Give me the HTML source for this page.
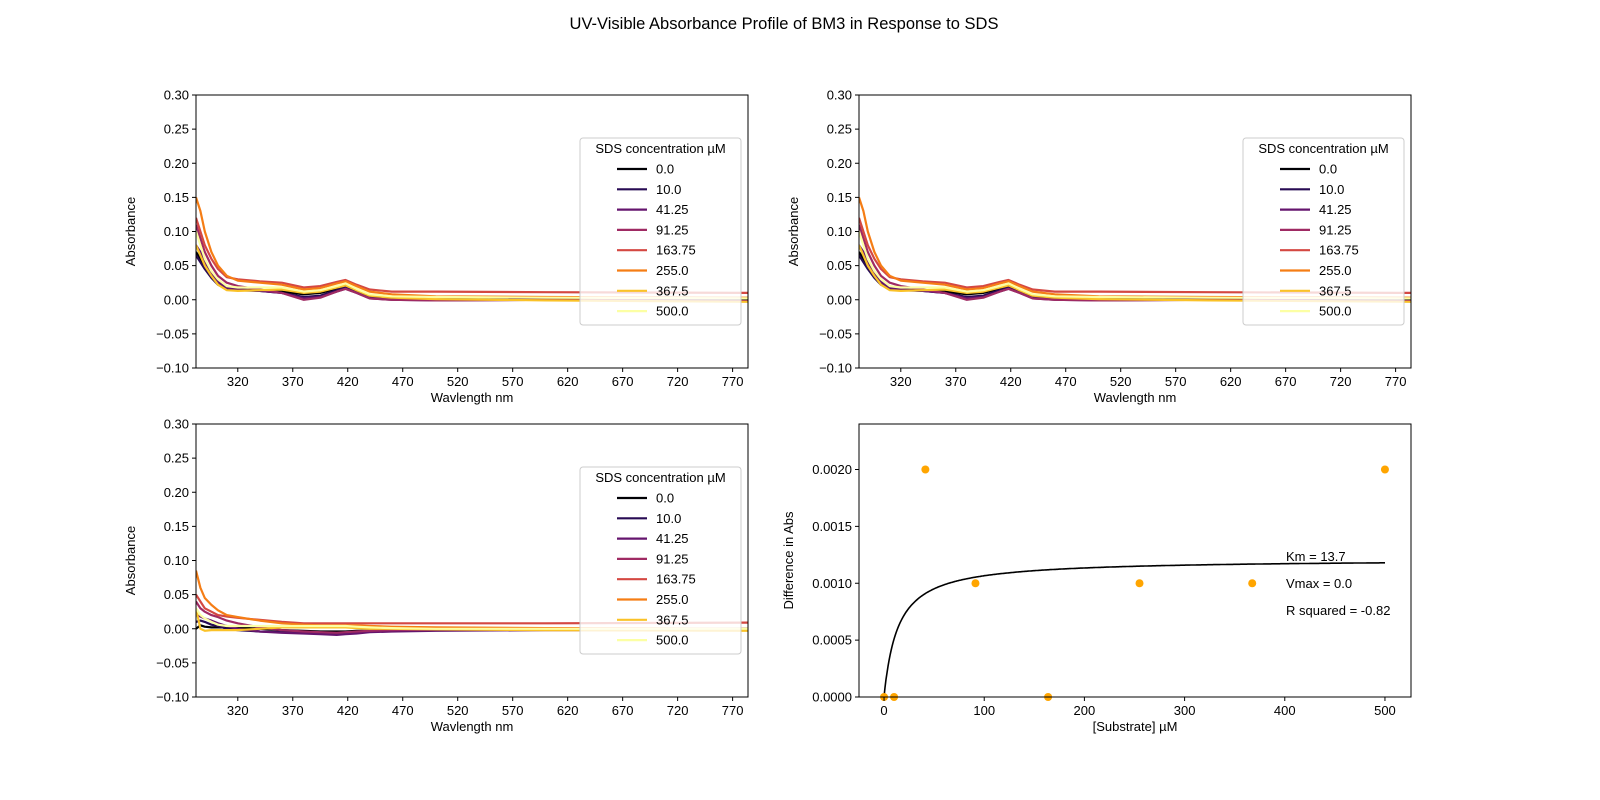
<!DOCTYPE html>
<html><head><meta charset="utf-8"><style>
html,body{margin:0;padding:0;background:#fff;overflow:hidden;width:1600px;height:800px}
svg{display:block}
svg text{font-family:"Liberation Sans","DejaVu Sans",sans-serif;fill:#000}
</style></head><body>
<svg id="fig" width="1600" height="800" xmlns="http://www.w3.org/2000/svg">
<rect width="1600" height="800" fill="#fff"/>
<text x="784" y="29" font-size="16.5" text-anchor="middle">UV-Visible Absorbance Profile of BM3 in Response to SDS</text>
</svg>
<script>
const NS="http://www.w3.org/2000/svg";
const svg=document.getElementById('fig');
const wavelengths=[282,286,290,296,302,310,320,340,360,380,395,410,418,428,440,460,500,600,784];
const concLabels=["0.0","10.0","41.25","91.25","163.75","255.0","367.5","500.0"];
const colors=["#000004","#280b54","#65156e","#9f2a63","#d44842","#f57d15","#fac228","#fcffa4"];
const panelA=[
[0.07,0.06,0.05,0.035,0.025,0.017,0.015,0.014,0.012,0.008,0.010,0.016,0.020,0.014,0.006,0.003,0.002,0.002,0.0],
[0.065,0.055,0.045,0.032,0.022,0.016,0.014,0.013,0.010,0.004,0.006,0.014,0.018,0.012,0.004,0.001,0.0,0.0,-0.002],
[0.08,0.07,0.055,0.038,0.026,0.018,0.015,0.013,0.010,0.002,0.004,0.012,0.016,0.010,0.002,0.0,-0.001,0.0,-0.002],
[0.11,0.09,0.07,0.05,0.035,0.025,0.02,0.015,0.01,0.0,0.003,0.012,0.016,0.01,0.002,0,-0.001,0,-0.002],
[0.12,0.1,0.08,0.06,0.045,0.033,0.03,0.027,0.025,0.018,0.02,0.026,0.029,0.022,0.015,0.012,0.012,0.011,0.01],
[0.15,0.13,0.1,0.07,0.05,0.035,0.028,0.025,0.022,0.015,0.017,0.024,0.027,0.02,0.012,0.008,0.005,0.004,0.003],
[0.08,0.065,0.05,0.035,0.022,0.014,0.013,0.014,0.015,0.01,0.012,0.018,0.021,0.014,0.006,0.003,0.001,-0.001,-0.003],
[0.1,0.08,0.06,0.042,0.03,0.02,0.018,0.018,0.018,0.012,0.014,0.02,0.024,0.016,0.008,0.005,0.004,0.003,0.002]];
const panelB=panelA;
const panelC=[
[0.0,0.005,0.003,0.002,0.002,0.002,0.002,0.0,-0.002,-0.003,-0.004,-0.004,-0.004,-0.003,-0.003,-0.002,-0.001,0,0],
[0.01,0.012,0.01,0.006,0.004,0.0,-0.002,-0.004,-0.005,-0.006,-0.007,-0.007,-0.006,-0.005,-0.004,-0.003,-0.002,-0.001,-0.002],
[0.02,0.018,0.015,0.012,0.008,0.004,0.0,-0.004,-0.006,-0.007,-0.008,-0.009,-0.008,-0.007,-0.005,-0.004,-0.003,-0.002,-0.002],
[0.04,0.03,0.025,0.02,0.017,0.012,0.008,0.002,-0.002,-0.004,-0.005,-0.006,-0.005,-0.004,-0.003,-0.002,-0.001,0,0],
[0.05,0.04,0.03,0.025,0.02,0.018,0.016,0.013,0.01,0.008,0.008,0.008,0.008,0.008,0.008,0.008,0.008,0.008,0.009],
[0.085,0.06,0.045,0.035,0.027,0.02,0.017,0.012,0.008,0.006,0.005,0.005,0.005,0.005,0.004,0.003,0.002,0.001,0.0],
[0.03,0.0,-0.003,-0.002,-0.002,-0.002,-0.002,0,0.002,0.002,0.002,0.002,0.002,0.001,0,0,-0.001,-0.002,-0.003],
[0.03,0.02,0.015,0.01,0.006,0.004,0.004,0.004,0.004,0.004,0.004,0.004,0.004,0.003,0.002,0.001,0,0,0]];
const xTicks=[320,370,420,470,520,570,620,670,720,770];
const yTicks=[-0.10,-0.05,0.00,0.05,0.10,0.15,0.20,0.25,0.30];
const substrate=[0,10,41.25,91.25,163.75,255,367.5,500];
const diffAbs=[0,0,0.002,0.001,0,0.001,0.001,0.002];
const Km=13.7, Vmax=0.001212;
const sXTicks=[0,100,200,300,400,500];
const sYTicks=[0,0.0005,0.0010,0.0015,0.0020];

function el(tag,attrs,parent){const e=document.createElementNS(NS,tag);for(const k in attrs)e.setAttribute(k,attrs[k]);(parent||svg).appendChild(e);return e;}
function txt(s,attrs,parent){const t=el('text',attrs,parent);t.textContent=s;return t;}

function spectrum(px,py,data,name){
  const w=552,h=273,x0=282,x1=784,y0=-0.10,y1=0.30;
  const g=el('g',{});
  
  
  const X=v=>px+(v-x0)/(x1-x0)*w, Y=v=>py+h-(v-y0)/(y1-y0)*h;
  const cid='clip'+name;
  const cp=el('clipPath',{id:cid},g);el('rect',{x:px,y:py,width:w,height:h},cp);
  const lg=el('g',{'clip-path':`url(#${cid})`},g);
  data.forEach((s,i)=>{
    const p=el('polyline',{points:s.map((v,j)=>X(wavelengths[j]).toFixed(1)+','+Y(v).toFixed(1)).join(' '),fill:'none',stroke:colors[i],'stroke-width':2.2,'stroke-linejoin':'round'},lg);
    
    
  });
  el('rect',{x:px,y:py,width:w,height:h,fill:'none',stroke:'#000','stroke-width':1},g);
  xTicks.forEach(t=>{const x=X(t);el('line',{x1:x,x2:x,y1:py+h,y2:py+h+4,stroke:'#000'},g);
    const l=txt(t,{x:x,y:py+h+18,'font-size':13,'text-anchor':'middle'},g);
    
    });
  yTicks.forEach(t=>{const y=Y(t);el('line',{x1:px-4,x2:px,y1:y,y2:y,stroke:'#000'},g);
    const l=txt((t<0?'\u2212':'')+Math.abs(t).toFixed(2),{x:px-7,y:y+4.5,'font-size':13,'text-anchor':'end'},g);
    
    });
  const xl=txt('Wavlength nm',{x:px+w/2,y:py+h+34,'font-size':13,'text-anchor':'middle'},g);
  
  
  const yl=txt('Absorbance',{x:0,y:0,'font-size':13,'text-anchor':'middle',transform:`translate(${px-61},${py+h/2}) rotate(-90)`},g);
  
  
  const lgd=el('g',{},g);
  
  
  const lx=px+384,ly=py+43;
  el('rect',{x:lx,y:ly,width:161,height:187,rx:3,fill:'rgba(255,255,255,0.8)',stroke:'#ccc'},lgd);
  txt('SDS concentration µM',{x:lx+80.5,y:ly+15,'font-size':13,'text-anchor':'middle'},lgd);
  concLabels.forEach((c,i)=>{const y=ly+31+i*20.3;
    const e=el('g',{},lgd);
    
    
    el('line',{x1:lx+37,x2:lx+67,y1:y,y2:y,stroke:colors[i],'stroke-width':2.2},e);
    txt(c,{x:lx+76,y:y+4.5,'font-size':13},e);});
}
spectrum(196,95,panelA,'spectrum-panel-1');
spectrum(859,95,panelB,'spectrum-panel-2');
spectrum(196,424,panelC,'spectrum-panel-3');

(function(){
  const px=859,py=424,w=552,h=273,x0=-25,x1=526,y0=0,y1=0.0024;
  const g=el('g',{});
  
  
  const X=v=>px+(v-x0)/(x1-x0)*w, Y=v=>py+h-(v-y0)/(y1-y0)*h;
  const pts=[];for(let s=0;s<=500;s+=1)pts.push(X(s).toFixed(1)+','+Y(Vmax*s/(Km+s)).toFixed(1));
  const fit=el('polyline',{points:pts.join(' '),fill:'none',stroke:'#000','stroke-width':1.6},g);
  
  
  substrate.forEach((s,i)=>{const c=el('circle',{cx:X(s),cy:Y(diffAbs[i]),r:4,fill:'#ffa500'},g);
    
    });
  el('rect',{x:px,y:py,width:w,height:h,fill:'none',stroke:'#000'},g);
  sXTicks.forEach(t=>{const x=X(t);el('line',{x1:x,x2:x,y1:py+h,y2:py+h+4,stroke:'#000'},g);
    const l=txt(t,{x:x,y:py+h+18,'font-size':13,'text-anchor':'middle'},g);
    
    });
  sYTicks.forEach(t=>{const y=Y(t);el('line',{x1:px-4,x2:px,y1:y,y2:y,stroke:'#000'},g);
    const l=txt(t.toFixed(4),{x:px-7,y:y+4.5,'font-size':13,'text-anchor':'end'},g);
    
    });
  const xl=txt('[Substrate] µM',{x:px+w/2,y:py+h+34,'font-size':13,'text-anchor':'middle'},g);
  
  
  const yl=txt('Difference in Abs',{x:0,y:0,'font-size':13,'text-anchor':'middle',transform:`translate(${px-66},${py+h/2}) rotate(-90)`},g);
  
  
  [['Km = 13.7',561],['Vmax = 0.0',588],['R squared = -0.82',615]].forEach(([s,y])=>{
    const t=txt(s,{x:1286,y:y,'font-size':13},g);
    
    });
})();
</script>
</body></html>
